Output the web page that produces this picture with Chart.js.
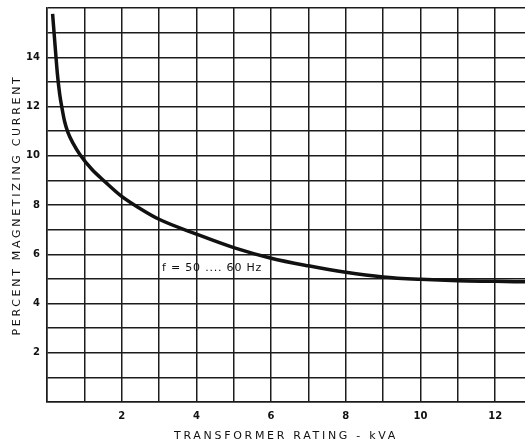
<!DOCTYPE html>
<html>
<head>
<meta charset="utf-8">
<script src="https://cdn.jsdelivr.net/npm/chart.js@4/dist/chart.umd.min.js"></script>
<style>
  html, body { margin: 0; padding: 0; background: #fff; }
  #wrap { width: 525px; height: 442px; }
</style>
</head>
<body>
<div id="wrap"><canvas id="grafico" width="525" height="442"></canvas></div>
<script>
// valores (kVA x % corrente de magnetizacao)
const kva = [0.15, 0.22, 0.28, 0.34, 0.40, 0.47, 0.56, 0.7, 0.88, 1.2, 1.55, 2.0, 2.5, 3.0, 4.0, 5.0, 6.0, 7.0, 8.0, 9.0, 10.0, 11.0, 12.0, 12.8];
const corrente = [15.76, 14.4, 13.3, 12.5, 11.95, 11.4, 10.95, 10.5, 10.05, 9.45, 8.95, 8.35, 7.85, 7.42, 6.82, 6.27, 5.84, 5.53, 5.27, 5.08, 4.98, 4.92, 4.9, 4.88];
const xTicksLabel = [2, 4, 6, 8, 10, 12];
const yTicksLabel = [2, 4, 6, 8, 10, 12, 14];
const rotulo = 'f = 50 .... 60 Hz';
const rotuloX = 4.42;
const rotuloY = 5.43;

// espacamento entre letras so nos titulos dos eixos
const espacamento = {
    id: 'espacamento',
    beforeDraw: chart => {
        Object.values(chart.scales).forEach(scale => {
            if (scale._espacado) return;
            const original = scale.drawTitle;
            scale.drawTitle = function () {
                this.ctx.save();
                this.ctx.letterSpacing = '2.7px';
                original.call(this);
                this.ctx.restore();
            };
            scale._espacado = true;
        });
    }
};

const anotacao = {
    id: 'anotacao',
    afterDatasetsDraw: chart => {
        const ctx = chart.ctx;
        const px = chart.scales.x.getPixelForValue(rotuloX);
        const py = chart.scales.y.getPixelForValue(rotuloY);
        ctx.save();
        ctx.letterSpacing = '0.8px';
        ctx.font = '11px "DejaVu Sans"';
        ctx.fillStyle = '#111';
        ctx.textAlign = 'center';
        ctx.textBaseline = 'middle';
        ctx.fillText(rotulo, px, py);
        ctx.restore();
    }
};

const ctx = document.getElementById('grafico').getContext('2d');

new Chart(ctx, {
    type: 'line',
    data: {
        datasets: [{
            data: kva.map((x, i) => ({ x: x, y: corrente[i] })),
            borderColor: '#111',
            borderWidth: 3.5,
            pointRadius: 0,
            fill: false,
            cubicInterpolationMode: 'monotone'
        }]
    },
    options: {
        responsive: false,
        animation: false,
        layout: { padding: { top: 8, right: 0, bottom: 0, left: 0 } },
        plugins: {
            legend: { display: false },
            tooltip: { enabled: false }
        },
        scales: {
            x: {
                type: 'linear',
                min: 0,
                max: 12.8,
                afterFit: scale => {
                    scale.height = 40;
                    scale.paddingLeft = 0;
                    scale.paddingRight = 0;
                },
                grid: { color: '#1c1c1c', lineWidth: 1.5, drawTicks: false },
                border: { color: '#1c1c1c', width: 1.5 },
                ticks: {
                    stepSize: 1,
                    includeBounds: false,
                    autoSkip: false,
                    maxRotation: 0,
                    padding: 8,
                    color: '#111',
                    font: { family: 'DejaVu Sans', size: 10, weight: 'bold' },
                    callback: v => xTicksLabel.includes(v) ? String(v) : ''
                },
                title: {
                    display: true,
                    text: 'TRANSFORMER RATING - kVA',
                    color: '#111',
                    padding: { top: 0, bottom: 0 },
                    font: { family: 'DejaVu Sans', size: 11, lineHeight: 1 }
                }
            },
            y: {
                min: 0,
                max: 16,
                afterFit: scale => {
                    scale.width = 47;
                    scale.paddingTop = 0;
                    scale.paddingBottom = 0;
                },
                grid: { color: '#1c1c1c', lineWidth: 1.5, drawTicks: false },
                border: { color: '#1c1c1c', width: 1.5 },
                ticks: {
                    stepSize: 1,
                    autoSkip: false,
                    padding: 7,
                    color: '#111',
                    font: { family: 'DejaVu Sans', size: 10, weight: 'bold' },
                    callback: v => yTicksLabel.includes(v) ? String(v) : ''
                },
                title: {
                    display: true,
                    text: 'PERCENT MAGNETIZING CURRENT',
                    color: '#111',
                    padding: { top: 11.5, bottom: 0 },
                    font: { family: 'DejaVu Sans', size: 11, lineHeight: 1 }
                }
            }
        }
    },
    plugins: [espacamento, anotacao]
});
</script>
</body>
</html>
